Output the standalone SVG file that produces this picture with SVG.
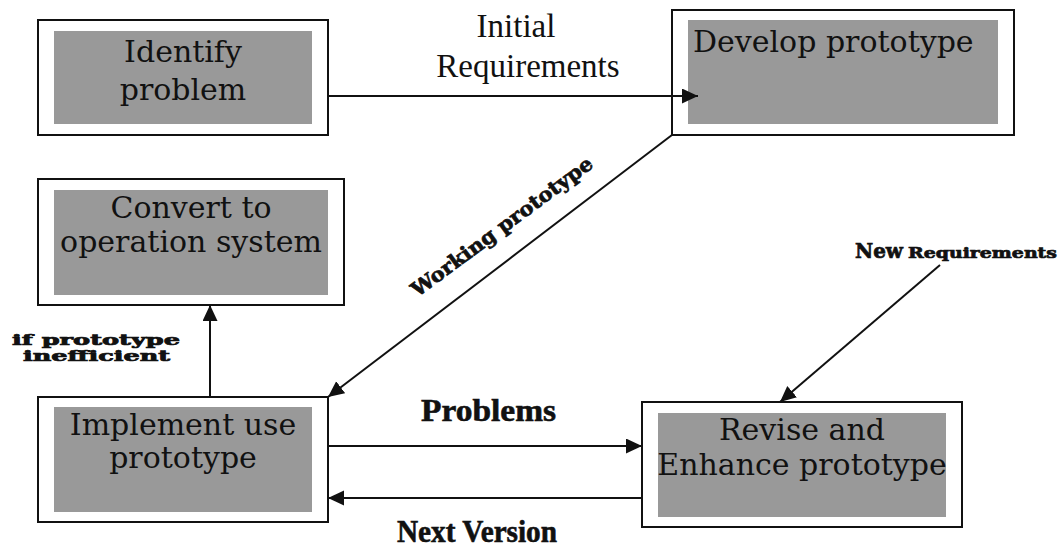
<svg xmlns="http://www.w3.org/2000/svg" width="1060" height="548" viewBox="0 0 1060 548">
<style>
.outer{fill:#fff;stroke:#111;stroke-width:2}
.inner{fill:#999;stroke:none}
.nt{font-family:"DejaVu Serif",serif;font-size:30px;fill:#111;text-anchor:middle}
.lbl{font-family:"Liberation Serif",serif;font-size:33px;fill:#111;text-anchor:middle}
.bl{font-family:"Liberation Serif",serif;font-weight:bold;fill:#111;stroke:#111;stroke-width:0.6}
.wide{font-family:"DejaVu Serif",serif;font-weight:bold;fill:#111;stroke:#111;stroke-width:0.7}
.con{stroke:#111;stroke-width:2;fill:none}
</style>
<defs>
<marker id="ah" markerUnits="userSpaceOnUse" markerWidth="17" markerHeight="16" refX="16" refY="7.5" orient="auto">
<path d="M0,0 L16,7.5 L0,15 z" fill="#111"/>
</marker>
</defs>
<rect width="1060" height="548" fill="#fff"/>
<g id="identify">
<rect class="outer" x="38" y="20" width="290" height="115"/>
<rect class="inner" x="54" y="31" width="258" height="93"/>
<text class="nt" x="183" y="62">Identify</text>
<text class="nt" x="183" y="100">problem</text>
</g>
<g id="develop">
<rect class="outer" x="672" y="10" width="342" height="125"/>
<rect class="inner" x="688" y="20" width="310" height="104"/>
<text class="nt" x="693" y="52" style="text-anchor:start">Develop prototype</text>
</g>
<g id="convert">
<rect class="outer" x="38" y="179" width="306" height="126"/>
<rect class="inner" x="54" y="190" width="274" height="105"/>
<text class="nt" x="191" y="218">Convert to</text>
<text class="nt" x="191" y="252">operation system</text>
</g>
<g id="implement">
<rect class="outer" x="38" y="397" width="290" height="125"/>
<rect class="inner" x="54" y="407" width="258" height="105"/>
<text class="nt" x="183" y="435">Implement use</text>
<text class="nt" x="183" y="468">prototype</text>
</g>
<g id="revise">
<rect class="outer" x="642" y="402" width="320" height="125"/>
<rect class="inner" x="658" y="413" width="288" height="104"/>
<text class="nt" x="802" y="440">Revise and</text>
<text class="nt" x="802" y="475">Enhance prototype</text>
</g>
<g id="connectors">
<line class="con" x1="328" y1="96" x2="698" y2="96" marker-end="url(#ah)"/>
<line class="con" x1="672" y1="135" x2="328" y2="397" marker-end="url(#ah)"/>
<line class="con" x1="210" y1="397" x2="210" y2="305" marker-end="url(#ah)"/>
<line class="con" x1="328" y1="446" x2="642" y2="446" marker-end="url(#ah)"/>
<line class="con" x1="642" y1="498" x2="328" y2="498" marker-end="url(#ah)"/>
<line class="con" x1="940" y1="265" x2="780" y2="402" marker-end="url(#ah)"/>
</g>
<g id="labels">
<text class="lbl" x="516" y="37">Initial</text>
<text class="lbl" x="528" y="77">Requirements</text>
<text class="wide" x="506" y="232" font-size="20" text-anchor="middle" textLength="220" lengthAdjust="spacingAndGlyphs" transform="rotate(-36.5 506 232)">Working prototype</text>
<text class="wide" x="12" y="345" font-size="14" textLength="168" lengthAdjust="spacingAndGlyphs">if prototype</text>
<text class="wide" x="23" y="361" font-size="14" textLength="147" lengthAdjust="spacingAndGlyphs">inefficient</text>
<text class="wide" x="855" y="258" font-size="20" textLength="48" lengthAdjust="spacingAndGlyphs">New</text>
<text class="wide" x="908" y="258" font-size="15" textLength="149" lengthAdjust="spacingAndGlyphs">Requirements</text>
<text class="bl" x="421" y="421" font-size="32" textLength="135" lengthAdjust="spacingAndGlyphs">Problems</text>
<text class="bl" x="397" y="542" font-size="31" textLength="160" lengthAdjust="spacingAndGlyphs">Next Version</text>
</g>
</svg>
